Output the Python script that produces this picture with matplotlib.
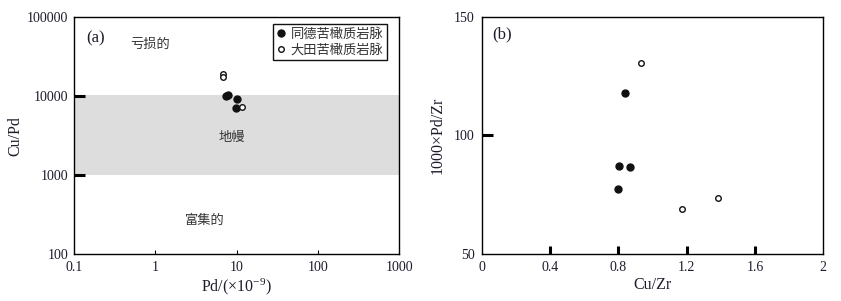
import matplotlib
matplotlib.use("Agg")
import matplotlib.pyplot as plt
from matplotlib.lines import Line2D

plt.rcParams["mathtext.fontset"] = "custom"
plt.rcParams["mathtext.rm"] = "Liberation Serif"
plt.rcParams["mathtext.it"] = "Liberation Serif:italic"

# Panel (a): Pd vs Cu/Pd
tongde_pd = [7.4, 7.9, 10.0, 9.85]
tongde_cupd = [10060, 10350, 9300, 7020]
datian_pd = [6.86, 6.86, 11.6]
datian_cupd = [19100, 17400, 7300]

# Panel (b): Cu/Zr vs 1000*Pd/Zr
tongde_cuzr = [0.837, 0.806, 0.868, 0.796]
tongde_pdzr = [117.7, 87.2, 86.8, 77.5]
datian_cuzr = [0.931, 1.173, 1.382]
datian_pdzr = [130.6, 69.0, 73.5]

mantle_band = (1000, 10300)
xticks_a = [0.1, 1, 10, 100, 1000]
xticklabels_a = ["0.1", "1", "10", "100", "1000"]
yticks_a = [100, 1000, 10000, 100000]
yticklabels_a = ["100", "1000", "10000", "100000"]
xticks_b = [0, 0.4, 0.8, 1.2, 1.6, 2]
xticklabels_b = ["0", "0.4", "0.8", "1.2", "1.6", "2"]
yticks_b = [50, 100, 150]
yticklabels_b = ["50", "100", "150"]

legend_labels = ["同德苦橄质岩脉", "大田苦橄质岩脉"]

serif = ["Liberation Serif", "DejaVu Serif"]
cjk = ["Noto Sans CJK SC", "DejaVu Sans"]
tc = "#1c1c2c"
tfs = 10
lfs = 11.5

fig = plt.figure(figsize=(8.41, 3.01), dpi=100)
axa = fig.add_axes([0.0880, 0.1561, 0.3868, 0.7864])
axb = fig.add_axes([0.5728, 0.1561, 0.4062, 0.7884])

# ----- panel a -----
axa.set_xscale("log")
axa.set_yscale("log")
axa.set_xlim(0.1, 1000)
axa.set_ylim(100, 100000)
axa.axhspan(mantle_band[0], mantle_band[1], color="#dcdddc", lw=0, zorder=0)
axa.plot(tongde_pd, tongde_cupd, "o", ms=5, mfc="#111111", mec="#111111", zorder=3)
axa.plot(datian_pd, datian_cupd, "o", ms=4, mfc="white", mec="#111111", mew=1.0, zorder=3)
axa.minorticks_off()
axa.set_xticks(xticks_a)
axa.set_xticklabels(xticklabels_a, family=serif, fontsize=tfs, color=tc)
axa.set_yticks(yticks_a)
axa.set_yticklabels(yticklabels_a, family=serif, fontsize=tfs, color=tc)
axa.tick_params(axis="x", direction="in", length=3, width=0.8, pad=5)
axa.tick_params(axis="y", direction="in", length=8, width=2.2, pad=4)
for t in axa.xaxis.get_major_ticks():
    if t.get_loc() in (0.1, 1000):
        t.tick1line.set_visible(False)
for t in axa.yaxis.get_major_ticks():
    if t.get_loc() in (100, 100000):
        t.tick1line.set_visible(False)
axa.set_xlabel("Pd/(×10$^{-9}$)", family=serif, fontsize=lfs, color=tc, labelpad=2)
axa.set_ylabel("Cu/Pd", family=serif, fontsize=lfs, color=tc, labelpad=3)
for s in axa.spines.values():
    s.set_linewidth(1.0)

axa.text(0.066, 0.911, "(a)", transform=axa.transAxes, ha="center", va="center",
         family=serif, fontsize=12, color=tc)
axa.text(0.234, 0.886, "亏损的", transform=axa.transAxes, ha="center", va="center",
         family=cjk, fontsize=9.5, color="#333333")
axa.text(0.486, 0.494, "地幔", transform=axa.transAxes, ha="center", va="center",
         family=cjk, fontsize=9.5, color="#333333")
axa.text(0.403, 0.143, "富集的", transform=axa.transAxes, ha="center", va="center",
         family=cjk, fontsize=9.5, color="#333333")

handles = [
    Line2D([], [], ls="none", marker="o", ms=5, mfc="#111111", mec="#111111"),
    Line2D([], [], ls="none", marker="o", ms=4, mfc="white", mec="#111111", mew=1.0),
]
leg = axa.legend(handles, legend_labels, loc="upper right", bbox_to_anchor=(0.963, 0.973),
                 frameon=True, fancybox=False, edgecolor="#111111", framealpha=1,
                 prop={"family": cjk, "size": 9.5}, handlelength=0.6, handletextpad=0.4,
                 borderpad=0.3, labelspacing=0.2, borderaxespad=0)
leg.get_frame().set_linewidth(1.0)
for t in leg.get_texts():
    t.set_color("#333333")

# ----- panel b -----
axb.set_xlim(0, 2)
axb.set_ylim(50, 150)
axb.plot(tongde_cuzr, tongde_pdzr, "o", ms=5, mfc="#111111", mec="#111111", zorder=3)
axb.plot(datian_cuzr, datian_pdzr, "o", ms=4, mfc="white", mec="#111111", mew=1.0, zorder=3)
axb.set_xticks(xticks_b)
axb.set_xticklabels(xticklabels_b, family=serif, fontsize=tfs, color=tc)
axb.set_yticks(yticks_b)
axb.set_yticklabels(yticklabels_b, family=serif, fontsize=tfs, color=tc)
axb.tick_params(axis="x", direction="in", length=6, width=2.2, pad=5)
axb.tick_params(axis="y", direction="in", length=8, width=2.2, pad=5)
for t in axb.xaxis.get_major_ticks():
    if t.get_loc() in (0, 2):
        t.tick1line.set_visible(False)
for t in axb.yaxis.get_major_ticks():
    if t.get_loc() in (50, 150):
        t.tick1line.set_visible(False)
axb.set_xlabel("Cu/Zr", family=serif, fontsize=lfs, color=tc, labelpad=2)
axb.set_ylabel("1000×Pd/Zr", family=serif, fontsize=lfs, color=tc, labelpad=6)
for s in axb.spines.values():
    s.set_linewidth(1.0)
axb.text(0.06, 0.927, "(b)", transform=axb.transAxes, ha="center", va="center",
         family=serif, fontsize=12, color=tc)

fig.savefig("out.png", dpi=100)
